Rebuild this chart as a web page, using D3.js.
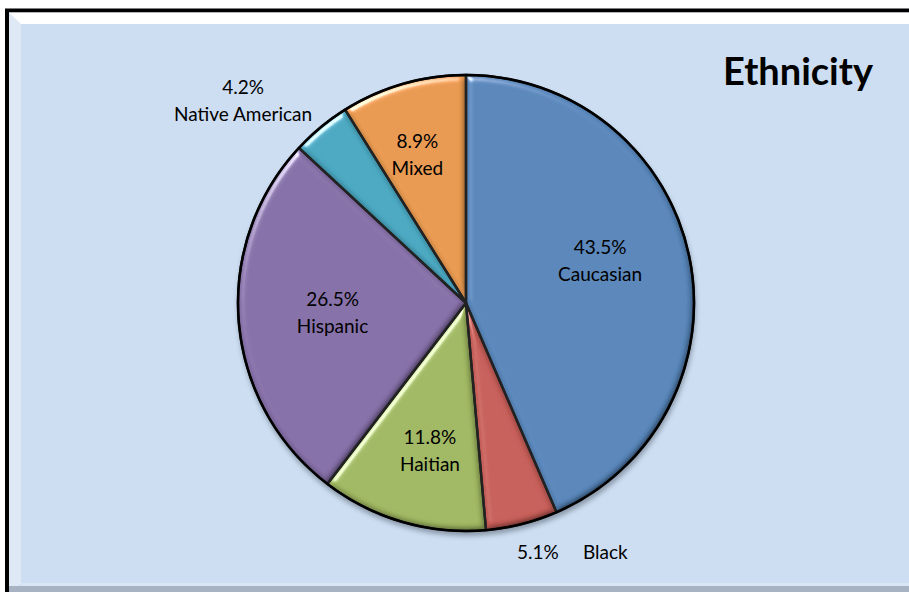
<!DOCTYPE html>
<html>
<head>
<meta charset="utf-8">
<script src="https://cdn.jsdelivr.net/npm/d3@7"></script>
<style>
  body { margin: 0; background: #fff; }
  svg { display: block; font-family: Lato, "Open Sans", sans-serif; }
</style>
</head>
<body>
<div class="chart"></div>
<script>
// values
var groups = ["Caucasian", "Black", "Haitian", "Hispanic", "Native American", "Mixed"]
var shares = [43.5, 5.1, 11.8, 26.5, 4.2, 8.9]
var colours = ["#5886ba", "#c65e58", "#a0b862", "#8670a8", "#4aa8c1", "#e99a50"]

const W = 909, H = 592
const cx = 466, cy = 303, R = 228

const svg = d3.select('.chart')
  .append('svg')
  .attr('width', W)
  .attr('height', H)

const defs = svg.append('defs')

// narrow bevel: light on the upper left, dark on the lower right
const bevel = defs.append('filter').attr('id', 'bevel')
  .attr('x', '-5%').attr('y', '-5%').attr('width', '110%').attr('height', '110%')
bevel.append('feGaussianBlur').attr('in', 'SourceAlpha').attr('stdDeviation', 3).attr('result', 'blur')
bevel.append('feSpecularLighting')
  .attr('in', 'blur').attr('surfaceScale', 4).attr('specularConstant', 1)
  .attr('specularExponent', 30).attr('lighting-color', '#fff').attr('result', 'spec')
  .append('feDistantLight').attr('azimuth', 235).attr('elevation', 30)
bevel.append('feComposite').attr('in', 'spec').attr('in2', 'SourceAlpha').attr('operator', 'in').attr('result', 'specIn')
bevel.append('feDiffuseLighting')
  .attr('in', 'blur').attr('surfaceScale', 4).attr('diffuseConstant', 1)
  .attr('lighting-color', '#fff').attr('result', 'diff')
  .append('feDistantLight').attr('azimuth', 235).attr('elevation', 60)
bevel.append('feComposite').attr('in', 'SourceGraphic').attr('in2', 'diff')
  .attr('operator', 'arithmetic').attr('k1', 1.155).attr('k2', 0).attr('k3', 0).attr('k4', 0).attr('result', 'lit')
bevel.append('feComposite').attr('in', 'lit').attr('in2', 'SourceAlpha').attr('operator', 'in').attr('result', 'litIn')
bevel.append('feComposite').attr('in', 'litIn').attr('in2', 'specIn')
  .attr('operator', 'arithmetic').attr('k1', 0).attr('k2', 1).attr('k3', 0.75).attr('k4', 0)

const shadow = defs.append('filter').attr('id', 'shadow')
  .attr('x', '-10%').attr('y', '-10%').attr('width', '120%').attr('height', '120%')
shadow.append('feGaussianBlur').attr('stdDeviation', 2.5)

const topGrad = defs.append('linearGradient').attr('id', 'topGrad')
  .attr('x1', 0).attr('y1', 0).attr('x2', 0).attr('y2', 1)
topGrad.append('stop').attr('offset', '0%').attr('stop-color', '#ffffff')
topGrad.append('stop').attr('offset', '100%').attr('stop-color', '#e6eef9')

// frame
svg.append('rect')
  .attr('x', 7).attr('y', 10.5).attr('width', 1000).attr('height', 600)
  .attr('fill', '#cddef2').attr('stroke', '#000').attr('stroke-width', 4)
svg.append('path')
  .attr('d', 'M9,12.5 L1000,12.5 L1000,24 L21,24 L21,583 L9,595 Z')
  .attr('fill', 'url(#topGrad)')
svg.append('path')
  .attr('d', 'M9,12.5 L21,24 L21,583 L9,595 Z')
  .attr('fill', '#dfe9f6')
svg.append('rect')
  .attr('x', 21).attr('y', 583).attr('width', 980).attr('height', 3)
  .attr('fill', '#dbe6f4')
svg.append('rect')
  .attr('x', 9).attr('y', 586).attr('width', 990).attr('height', 8)
  .attr('fill', '#a7b3c2')

svg.append('text')
  .attr('x', 798).attr('y', 85)
  .attr('text-anchor', 'middle')
  .style('font-size', '38px').style('font-weight', 'bold')
  .text('Ethnicity')

const pie = d3.pie().sort(null).value(d => d)
const arcs = pie(shares)
const arc = d3.arc().innerRadius(0).outerRadius(R)

const g = svg.append('g').attr('transform', `translate(${cx},${cy})`)

g.append('circle')
  .attr('cx', 1).attr('cy', 4).attr('r', R + 1)
  .attr('fill', '#4a5462').attr('opacity', 0.5)
  .attr('filter', 'url(#shadow)')

g.selectAll('path.slice')
  .data(arcs)
  .enter()
  .append('path')
  .attr('class', 'slice')
  .attr('d', arc)
  .attr('fill', (d, i) => colours[i])
  .attr('filter', 'url(#bevel)')

// dark seams between slices
g.selectAll('path.seam')
  .data(arcs)
  .enter()
  .append('path')
  .attr('class', 'seam')
  .attr('d', arc)
  .attr('fill', 'none')
  .attr('stroke', '#222')
  .attr('stroke-width', 2.4)
  .attr('stroke-linejoin', 'round')

g.append('circle')
  .attr('r', R).attr('fill', 'none')
  .attr('stroke', '#000').attr('stroke-width', 2.5)

// labels: inside ones on a ring, the two thin slices outside
const inner = d3.arc().innerRadius(140).outerRadius(140)
const labelNudge = {
  0: [-3, -15],
  2: [3, 13],
  3: [6, -3],
  5: [-10, -14]
}

arcs.forEach((d, i) => {
  let pct = shares[i].toFixed(1) + '%'
  if (i === 1) {
    // black sits below the pie on one line
    const p = d3.arc().innerRadius(R + 20).outerRadius(R + 20).centroid(d)
    g.append('text')
      .attr('x', p[0] - 10).attr('y', p[1] + 16)
      .attr('text-anchor', 'start')
      .style('font-size', '19px')
      .attr('xml:space', 'preserve')
      .text(pct + '     ' + groups[i])
    return
  }
  let x, y
  if (i === 4) {
    const p = d3.arc().innerRadius(R + 70).outerRadius(R + 70).centroid(d)
    x = p[0] - 33
    y = p[1] + 27
  } else {
    const p = inner.centroid(d)
    x = p[0] + labelNudge[i][0]
    y = p[1] + labelNudge[i][1]
  }
  const t = g.append('text')
    .attr('text-anchor', 'middle')
    .style('font-size', '19px')
  t.append('tspan').attr('x', x).attr('y', y - 6).text(pct)
  t.append('tspan').attr('x', x).attr('y', y + 21).text(groups[i])
})
</script>
</body>
</html>
